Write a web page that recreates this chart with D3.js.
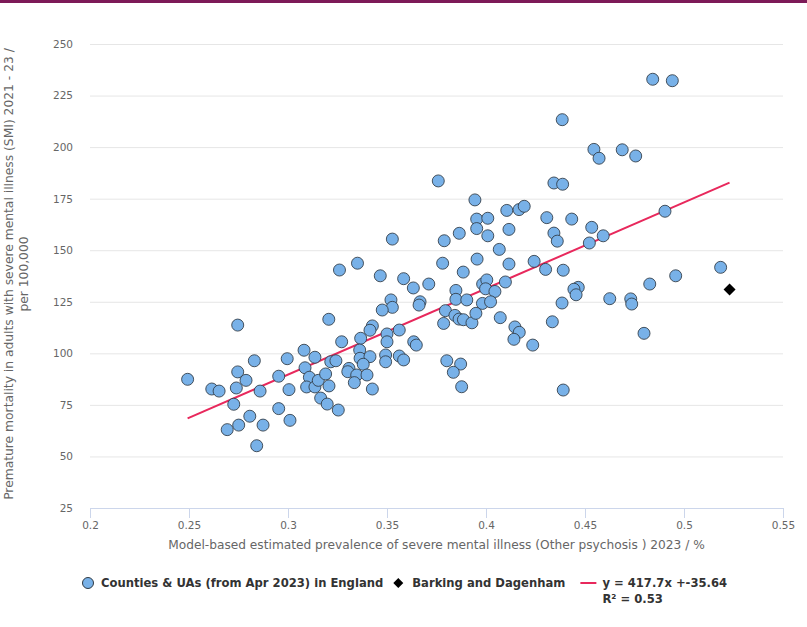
<!DOCTYPE html>
<html>
<head>
<meta charset="utf-8">
<script src="https://cdn.jsdelivr.net/npm/d3@7"></script>
<style>
  html, body { margin: 0; padding: 0; background: #fff; }
  svg { display: block; }
  text { font-family: "DejaVu Sans", Verdana, sans-serif; }
</style>
</head>
<body>
<svg id="chart" width="807" height="627"></svg>
<script>
// ---- Data ----
const seriesName = "Counties & UAs (from Apr 2023) in England";
const highlightName = "Barking and Dagenham";
const xVals = [
  0.2493, 0.2746, 0.2615, 0.2652, 0.2830, 0.2746, 0.2788, 0.2739, 0.2726, 0.2807,
  0.2751, 0.2693, 0.2874, 0.2842, 0.2859, 0.2953, 0.3010, 0.2996, 0.2953, 0.3005,
  0.3081, 0.3086, 0.3136, 0.3108, 0.3094, 0.3136, 0.3153, 0.3190, 0.3207, 0.3165,
  0.3198, 0.3254, 0.3206, 0.3271, 0.3216, 0.3242, 0.3308, 0.3302, 0.3367, 0.3362,
  0.3364, 0.3414, 0.3380, 0.3426, 0.3414, 0.3500, 0.3562, 0.3500, 0.3635, 0.3648,
  0.3493, 0.3493, 0.3562, 0.3584, 0.3347, 0.3399, 0.3335, 0.3426, 0.3520, 0.3527,
  0.3476, 0.3667, 0.3662, 0.3260, 0.3351, 0.3466, 0.3584, 0.3633, 0.3711, 0.3527,
  0.3759, 0.3781, 0.3789, 0.3865, 0.3885, 0.3955, 0.3944, 0.3953, 0.4009, 0.3953,
  0.4009, 0.4067, 0.3848, 0.3848, 0.3903, 0.3983, 0.4004, 0.3998, 0.4045, 0.4098,
  0.3982, 0.4023, 0.3795, 0.3843, 0.3864, 0.3886, 0.3929, 0.3949, 0.3786, 0.4072,
  0.3802, 0.3872, 0.3835, 0.3877, 0.4842, 0.4941, 0.4385, 0.4545, 0.4571, 0.4688,
  0.4756, 0.4343, 0.4387, 0.4105, 0.4167, 0.4193, 0.4307, 0.4433, 0.4116, 0.4343,
  0.4360, 0.4534, 0.4592, 0.4522, 0.4904, 0.4116, 0.4243, 0.4301, 0.4390, 0.5185,
  0.4958, 0.4827, 0.4466, 0.4444, 0.4455, 0.4625, 0.4731, 0.4736, 0.4384, 0.4146,
  0.4168, 0.4141, 0.4335, 0.4236, 0.4798, 0.4390
];
const yVals = [
  87.4, 113.7, 82.7, 81.7, 96.4, 91.0, 86.9, 83.2, 75.3, 69.5,
  65.2, 63.0, 65.2, 55.2, 81.7, 73.2, 67.5, 97.4, 88.9, 82.4,
  101.5, 93.0, 98.1, 88.4, 83.7, 83.7, 86.9, 90.0, 84.2, 78.3,
  75.4, 72.5, 116.5, 105.6, 95.9, 96.4, 92.7, 91.1, 107.3, 101.6,
  97.6, 98.4, 94.7, 113.3, 111.2, 109.4, 111.3, 105.6, 105.6, 104.0,
  99.2, 95.9, 98.7, 96.8, 89.5, 89.5, 85.8, 82.7, 125.9, 122.3,
  121.0, 125.0, 123.4, 140.4, 143.7, 137.6, 136.2, 131.7, 133.6, 155.4,
  183.6, 143.7, 154.6, 158.2, 139.4, 145.7, 174.4, 165.1, 165.5, 160.5,
  157.0, 150.4, 130.5, 126.2, 125.9, 133.6, 135.6, 131.3, 130.0, 134.6,
  124.2, 125.0, 120.7, 118.4, 116.6, 116.3, 114.8, 119.4, 114.5, 117.3,
  96.4, 94.8, 90.8, 83.8, 232.9, 232.2, 213.3, 198.9, 194.6, 198.7,
  195.7, 182.6, 182.0, 169.3, 169.7, 171.3, 165.8, 165.1, 160.1, 158.3,
  154.4, 161.1, 157.0, 153.5, 168.9, 143.3, 144.6, 140.7, 140.3, 141.7,
  137.6, 133.6, 132.0, 131.1, 128.4, 126.5, 126.4, 123.9, 124.4, 112.8,
  110.2, 106.8, 115.3, 104.0, 109.7, 82.2
];
const highlightX = [0.5230];
const highlightY = [131.0];
const trendSlope = 417.7;
const trendIntercept = -35.64;
const trendLabel = ["y = 417.7x +-35.64", "R² = 0.53"];
const xTicks = [0.2, 0.25, 0.3, 0.35, 0.4, 0.45, 0.5, 0.55];
const yTicks = [25, 50, 75, 100, 125, 150, 175, 200, 225, 250];
const xTitle = "Model-based estimated prevalence of severe mental illness (Other psychosis ) 2023 / %";
const yTitle = ["Premature mortality in adults with severe mental illness (SMI) 2021 - 23 /", "per 100,000"];

// ---- Layout ----
const svg = d3.select("#chart");
const L = 90, R = 783, T = 44, B = 508;
const x = d3.scaleLinear().domain([0.2, 0.55]).range([L, R]);
const y = d3.scaleLinear().domain([25, 250]).range([B, T]);

// top border
svg.append("rect").attr("x", 0).attr("y", 0).attr("width", 807).attr("height", 3).attr("fill", "#7d1a58");

// y grid + labels
const yAxis = d3.axisLeft(y).tickValues(yTicks).tickSize(-(R - L)).tickPadding(17).tickFormat(d3.format("d"));
const gy = svg.append("g").attr("transform", `translate(${L},0)`).call(yAxis);
gy.select(".domain").remove();
gy.selectAll(".tick line").attr("stroke", "#e6e6e6").attr("stroke-width", 1);
gy.selectAll(".tick text").attr("fill", "#666").style("font-size", "10.5px");

// x axis
const xAxis = d3.axisBottom(x).tickValues(xTicks).tickSize(10).tickSizeOuter(0).tickPadding(4)
  .tickFormat(d => d3.format("")(+d.toFixed(2)));
const gx = svg.append("g").attr("transform", `translate(0,${B})`).call(xAxis);
gx.select(".domain").attr("stroke", "#ccd6eb");
gx.selectAll(".tick line").attr("stroke", "#ccd6eb");
gx.selectAll(".tick text").attr("fill", "#666").style("font-size", "10.5px");

// axis titles
svg.append("text").attr("x", (L + R) / 2).attr("y", 549).attr("text-anchor", "middle")
  .attr("fill", "#666").style("font-size", "12.2px").text(xTitle);
const yt = svg.append("text").attr("transform", `translate(0,${(T + B) / 2 - 2}) rotate(-90)`)
  .attr("text-anchor", "middle").attr("fill", "#666").style("font-size", "12.3px");
yt.append("tspan").attr("x", 0).attr("y", 12.5).text(yTitle[0]);
yt.append("tspan").attr("x", 0).attr("y", 28).text(yTitle[1]);

// trend line
const xs = xVals.concat(highlightX);
const xMin = d3.min(xs), xMax = d3.max(xs);
svg.append("line")
  .attr("x1", x(xMin)).attr("y1", y(trendSlope * xMin + trendIntercept))
  .attr("x2", x(xMax)).attr("y2", y(trendSlope * xMax + trendIntercept))
  .attr("stroke", "#e8285c").attr("stroke-width", 2);

// points
const pts = xVals.map((v, i) => ({ x: v, y: yVals[i] }));
svg.append("g").selectAll("circle").data(pts).join("circle")
  .attr("cx", d => x(d.x)).attr("cy", d => y(d.y)).attr("r", 6)
  .attr("fill", "#78b1e8").attr("stroke", "#2f3a44").attr("stroke-opacity", 0.85).attr("stroke-width", 1);

// highlight diamond
const hp = highlightX.map((v, i) => ({ x: v, y: highlightY[i] }));
svg.append("g").selectAll("path").data(hp).join("path")
  .attr("transform", d => `translate(${x(d.x)},${y(d.y)})`)
  .attr("d", "M0,-6L6,0L0,6L-6,0Z").attr("fill", "#000");

// legend (laid out sequentially from measured text widths)
const lg = svg.append("g").attr("font-weight", "bold").style("font-size", "11.6px");
const ly = 583;
lg.append("circle").attr("cx", 88).attr("cy", ly).attr("r", 5.5)
  .attr("fill", "#78b1e8").attr("stroke", "#2f3a44").attr("stroke-width", 1);
const t1 = lg.append("text").attr("x", 101).attr("y", ly + 4).attr("fill", "#333").text(seriesName);
const e1 = 101 + t1.node().getComputedTextLength();
lg.append("path").attr("transform", `translate(${e1 + 15},${ly})`).attr("d", "M0,-5L5,0L0,5L-5,0Z").attr("fill", "#000");
const t2 = lg.append("text").attr("x", e1 + 29).attr("y", ly + 4).attr("fill", "#333").text(highlightName);
const e2 = e1 + 29 + t2.node().getComputedTextLength();
lg.append("line").attr("x1", e2 + 15).attr("x2", e2 + 31).attr("y1", ly).attr("y2", ly).attr("stroke", "#e8285c").attr("stroke-width", 2);
lg.append("text").attr("x", e2 + 37).attr("y", ly + 4).attr("fill", "#333").text(trendLabel[0]);
lg.append("text").attr("x", e2 + 37).attr("y", ly + 20).attr("fill", "#333").text(trendLabel[1]);
</script>
</body>
</html>
